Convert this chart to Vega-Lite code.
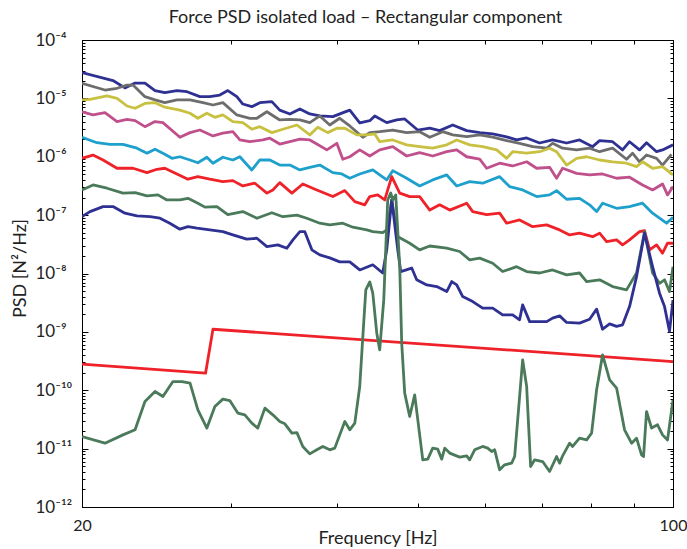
{
"$schema": "https://vega.github.io/schema/vega-lite/v6.json",
"width": 591, "height": 467,
"autosize": {"type": "none"},
"padding": {"left": 82, "top": 40, "right": 14, "bottom": 42},
"background": "white",
"config": {"view": {"stroke": "black", "strokeWidth": 1}, "font": "Lato",
  "axis": {"domainColor": "black", "tickColor": "black", "grid": false, "labelColor": "#222", "titleColor": "#222", "titleFontWeight": "normal", "labelFont": "Lato", "titleFont": "Lato"}},
"title": {"text": "Force PSD isolated load – Rectangular component", "fontSize": 18, "fontWeight": "normal", "color": "#222", "offset": 4, "dx": -12, "font": "Lato"},
"data": {"values": [
{"s":"s1","f":20,"v":2.76e-5},{"s":"s1","f":21.76,"v":2.02e-5},{"s":"s1","f":22.48,"v":1.51e-5},{"s":"s1","f":23.11,"v":1.83e-5},{"s":"s1","f":23.74,"v":1.83e-5},{"s":"s1","f":24.40,"v":1.36e-5},{"s":"s1","f":25.06,"v":1.25e-5},{"s":"s1","f":25.90,"v":1.36e-5},{"s":"s1","f":26.62,"v":1.30e-5},{"s":"s1","f":27.57,"v":1.07e-5},{"s":"s1","f":28.33,"v":1.07e-5},{"s":"s1","f":29.11,"v":1.14e-5},{"s":"s1","f":29.75,"v":1.36e-5},{"s":"s1","f":30.49,"v":1.07e-5},{"s":"s1","f":30.99,"v":8.0e-6},{"s":"s1","f":31.76,"v":7.2e-6},{"s":"s1","f":32.46,"v":8.45e-6},{"s":"s1","f":33.54,"v":8.8e-6},{"s":"s1","f":34.27,"v":6.3e-6},{"s":"s1","f":35.23,"v":5.4e-6},{"s":"s1","f":36.20,"v":6.6e-6},{"s":"s1","f":37.19,"v":5.4e-6},{"s":"s1","f":38.22,"v":5.0e-6},{"s":"s1","f":39.60,"v":4.87e-6},{"s":"s1","f":40.58,"v":5.6e-6},{"s":"s1","f":41.47,"v":6.3e-6},{"s":"s1","f":42.61,"v":3.8e-6},{"s":"s1","f":43.79,"v":4.15e-6},{"s":"s1","f":44.39,"v":5.0e-6},{"s":"s1","f":45.86,"v":3.84e-6},{"s":"s1","f":47.13,"v":4.27e-6},{"s":"s1","f":48.16,"v":4.44e-6},{"s":"s1","f":49.89,"v":2.87e-6},{"s":"s1","f":51.56,"v":3.1e-6},{"s":"s1","f":52.97,"v":2.8e-6},{"s":"s1","f":54.89,"v":3.5e-6},{"s":"s1","f":57.02,"v":2.8e-6},{"s":"s1","f":59.07,"v":2.59e-6},{"s":"s1","f":61.20,"v":2.46e-6},{"s":"s1","f":63.57,"v":2.19e-6},{"s":"s1","f":65.32,"v":1.94e-6},{"s":"s1","f":67.13,"v":2.1e-6},{"s":"s1","f":69.54,"v":1.72e-6},{"s":"s1","f":72.04,"v":1.94e-6},{"s":"s1","f":74.85,"v":1.72e-6},{"s":"s1","f":77.53,"v":1.94e-6},{"s":"s1","f":80.34,"v":1.49e-6},{"s":"s1","f":81.88,"v":1.89e-6},{"s":"s1","f":84.83,"v":1.81e-6},{"s":"s1","f":87.17,"v":1.31e-6},{"s":"s1","f":88.84,"v":1.81e-6},{"s":"s1","f":91.29,"v":1.31e-6},{"s":"s1","f":93.05,"v":1.74e-6},{"s":"s1","f":95.62,"v":1.22e-6},{"s":"s1","f":97.19,"v":1.31e-6},{"s":"s1","f":100,"v":1.6e-6},
{"s":"s2","f":20,"v":1.81e-5},{"s":"s2","f":21.29,"v":1.39e-5},{"s":"s2","f":22.00,"v":1.49e-5},{"s":"s2","f":22.61,"v":1.69e-5},{"s":"s2","f":22.98,"v":1.69e-5},{"s":"s2","f":23.74,"v":1.07e-5},{"s":"s2","f":24.40,"v":9.4e-6},{"s":"s2","f":25.06,"v":8.45e-6},{"s":"s2","f":25.90,"v":9.4e-6},{"s":"s2","f":26.84,"v":9.4e-6},{"s":"s2","f":27.80,"v":8.45e-6},{"s":"s2","f":28.57,"v":7.7e-6},{"s":"s2","f":29.35,"v":8.45e-6},{"s":"s2","f":30.49,"v":5.2e-6},{"s":"s2","f":31.59,"v":4.56e-6},{"s":"s2","f":32.20,"v":4.56e-6},{"s":"s2","f":33.09,"v":5.9e-6},{"s":"s2","f":34.27,"v":4.27e-6},{"s":"s2","f":35.23,"v":4.38e-6},{"s":"s2","f":36.20,"v":4.27e-6},{"s":"s2","f":37.19,"v":3.84e-6},{"s":"s2","f":38.22,"v":5.0e-6},{"s":"s2","f":39.27,"v":3.5e-6},{"s":"s2","f":40.35,"v":4.56e-6},{"s":"s2","f":41.47,"v":3.37e-6},{"s":"s2","f":42.97,"v":2.16e-6},{"s":"s2","f":43.79,"v":2.59e-6},{"s":"s2","f":44.99,"v":2.69e-6},{"s":"s2","f":46.62,"v":2.87e-6},{"s":"s2","f":48.42,"v":2.59e-6},{"s":"s2","f":50.16,"v":2.69e-6},{"s":"s2","f":51.56,"v":2.16e-6},{"s":"s2","f":53.42,"v":2.69e-6},{"s":"s2","f":54.89,"v":2.37e-6},{"s":"s2","f":57.02,"v":2.22e-6},{"s":"s2","f":59.07,"v":2.37e-6},{"s":"s2","f":61.20,"v":2.16e-6},{"s":"s2","f":63.57,"v":1.89e-6},{"s":"s2","f":65.85,"v":1.7e-6},{"s":"s2","f":68.24,"v":1.49e-6},{"s":"s2","f":70.89,"v":1.40e-6},{"s":"s2","f":72.04,"v":1.7e-6},{"s":"s2","f":74.04,"v":1.40e-6},{"s":"s2","f":76.91,"v":1.31e-6},{"s":"s2","f":79.68,"v":1.40e-6},{"s":"s2","f":81.88,"v":1.22e-6},{"s":"s2","f":84.83,"v":1.40e-6},{"s":"s2","f":88.12,"v":9.07e-7},{"s":"s2","f":89.57,"v":1.15e-6},{"s":"s2","f":91.29,"v":8.2e-7},{"s":"s2","f":93.05,"v":1.07e-6},{"s":"s2","f":95.62,"v":9.4e-7},{"s":"s2","f":97.19,"v":7.2e-7},{"s":"s2","f":99.6,"v":1.1e-6},
{"s":"s3","f":20,"v":9.4e-6},{"s":"s3","f":20.44,"v":9.65e-6},{"s":"s3","f":21.41,"v":1.1e-5},{"s":"s3","f":22.00,"v":1.0e-5},{"s":"s3","f":22.61,"v":7.4e-6},{"s":"s3","f":23.11,"v":6.77e-6},{"s":"s3","f":23.74,"v":8.2e-6},{"s":"s3","f":24.40,"v":8.45e-6},{"s":"s3","f":25.06,"v":7.05e-6},{"s":"s3","f":26.11,"v":6.3e-6},{"s":"s3","f":26.84,"v":5.56e-6},{"s":"s3","f":27.42,"v":4.56e-6},{"s":"s3","f":28.10,"v":5.56e-6},{"s":"s3","f":28.72,"v":4.74e-6},{"s":"s3","f":29.35,"v":5.2e-6},{"s":"s3","f":30.16,"v":4.0e-6},{"s":"s3","f":30.99,"v":3.84e-6},{"s":"s3","f":31.76,"v":2.96e-6},{"s":"s3","f":32.46,"v":3.28e-6},{"s":"s3","f":33.54,"v":2.59e-6},{"s":"s3","f":34.56,"v":2.96e-6},{"s":"s3","f":35.91,"v":3.5e-6},{"s":"s3","f":37.19,"v":2.37e-6},{"s":"s3","f":38.01,"v":3.2e-6},{"s":"s3","f":39.06,"v":2.59e-6},{"s":"s3","f":40.03,"v":3.08e-6},{"s":"s3","f":40.91,"v":3.08e-6},{"s":"s3","f":42.27,"v":2.37e-6},{"s":"s3","f":43.44,"v":2.37e-6},{"s":"s3","f":44.39,"v":2.46e-6},{"s":"s3","f":44.99,"v":1.81e-6},{"s":"s3","f":46.62,"v":1.94e-6},{"s":"s3","f":48.42,"v":1.6e-6},{"s":"s3","f":50.16,"v":1.49e-6},{"s":"s3","f":51.98,"v":1.40e-6},{"s":"s3","f":54.00,"v":1.6e-6},{"s":"s3","f":55.49,"v":1.94e-6},{"s":"s3","f":57.48,"v":1.6e-6},{"s":"s3","f":59.55,"v":1.49e-6},{"s":"s3","f":61.87,"v":1.31e-6},{"s":"s3","f":63.57,"v":9.4e-7},{"s":"s3","f":64.62,"v":1.22e-6},{"s":"s3","f":67.13,"v":1.15e-6},{"s":"s3","f":69.54,"v":1.22e-6},{"s":"s3","f":71.46,"v":1.40e-6},{"s":"s3","f":72.83,"v":1.22e-6},{"s":"s3","f":74.85,"v":7.2e-7},{"s":"s3","f":76.91,"v":9.4e-7},{"s":"s3","f":79.04,"v":1.0e-6},{"s":"s3","f":81.88,"v":8.8e-7},{"s":"s3","f":84.83,"v":8.2e-7},{"s":"s3","f":88.12,"v":7.75e-7},{"s":"s3","f":90.55,"v":6.77e-7},{"s":"s3","f":92.04,"v":8.2e-7},{"s":"s3","f":94.59,"v":6.35e-7},{"s":"s3","f":97.19,"v":6.77e-7},{"s":"s3","f":100,"v":4.9e-7},
{"s":"s4","f":20,"v":5.9e-6},{"s":"s4","f":20.61,"v":5.2e-6},{"s":"s4","f":21.29,"v":5.7e-6},{"s":"s4","f":22.00,"v":4.0e-6},{"s":"s4","f":22.61,"v":4.38e-6},{"s":"s4","f":23.11,"v":4.15e-6},{"s":"s4","f":23.74,"v":3.28e-6},{"s":"s4","f":24.40,"v":4.0e-6},{"s":"s4","f":24.93,"v":3.84e-6},{"s":"s4","f":26.11,"v":2.16e-6},{"s":"s4","f":26.84,"v":2.59e-6},{"s":"s4","f":27.57,"v":2.87e-6},{"s":"s4","f":28.57,"v":2.27e-6},{"s":"s4","f":29.35,"v":2.53e-6},{"s":"s4","f":30.16,"v":2.69e-6},{"s":"s4","f":30.74,"v":1.94e-6},{"s":"s4","f":31.59,"v":1.81e-6},{"s":"s4","f":32.73,"v":1.94e-6},{"s":"s4","f":33.36,"v":2.08e-6},{"s":"s4","f":34.27,"v":1.65e-6},{"s":"s4","f":35.23,"v":1.81e-6},{"s":"s4","f":36.20,"v":2.0e-6},{"s":"s4","f":37.19,"v":1.94e-6},{"s":"s4","f":37.91,"v":1.65e-6},{"s":"s4","f":38.96,"v":1.31e-6},{"s":"s4","f":40.03,"v":1.7e-6},{"s":"s4","f":40.69,"v":9.07e-7},{"s":"s4","f":41.47,"v":1.0e-6},{"s":"s4","f":42.61,"v":1.31e-6},{"s":"s4","f":43.79,"v":1.03e-6},{"s":"s4","f":44.99,"v":1.31e-6},{"s":"s4","f":46.62,"v":1.49e-6},{"s":"s4","f":48.42,"v":1.03e-6},{"s":"s4","f":50.16,"v":1.18e-6},{"s":"s4","f":51.98,"v":1.03e-6},{"s":"s4","f":54.00,"v":1.22e-6},{"s":"s4","f":55.49,"v":1.31e-6},{"s":"s4","f":57.02,"v":1.0e-6},{"s":"s4","f":59.07,"v":9.07e-7},{"s":"s4","f":60.20,"v":6.35e-7},{"s":"s4","f":62.37,"v":7.75e-7},{"s":"s4","f":64.62,"v":6.95e-7},{"s":"s4","f":67.13,"v":8.2e-7},{"s":"s4","f":68.98,"v":6.35e-7},{"s":"s4","f":71.46,"v":6.6e-7},{"s":"s4","f":72.83,"v":4.28e-7},{"s":"s4","f":74.04,"v":6.35e-7},{"s":"s4","f":76.91,"v":5.2e-7},{"s":"s4","f":79.68,"v":4.88e-7},{"s":"s4","f":82.55,"v":5.07e-7},{"s":"s4","f":85.76,"v":4.28e-7},{"s":"s4","f":88.84,"v":4.46e-7},{"s":"s4","f":92.04,"v":3.29e-7},{"s":"s4","f":94.59,"v":2.7e-7},{"s":"s4","f":97.19,"v":3.42e-7},{"s":"s4","f":98.52,"v":2.22e-7},{"s":"s4","f":100,"v":3.08e-7},
{"s":"s5","f":20,"v":2.16e-6},{"s":"s5","f":20.83,"v":1.74e-6},{"s":"s5","f":21.58,"v":1.63e-6},{"s":"s5","f":22.36,"v":1.63e-6},{"s":"s5","f":23.23,"v":1.40e-6},{"s":"s5","f":23.87,"v":1.15e-6},{"s":"s5","f":24.40,"v":1.35e-6},{"s":"s5","f":24.93,"v":1.15e-6},{"s":"s5","f":25.55,"v":9.4e-7},{"s":"s5","f":26.11,"v":1.0e-6},{"s":"s5","f":26.84,"v":8.8e-7},{"s":"s5","f":27.42,"v":7.9e-7},{"s":"s5","f":28.10,"v":9.8e-7},{"s":"s5","f":28.57,"v":7.75e-7},{"s":"s5","f":29.35,"v":9.8e-7},{"s":"s5","f":30.16,"v":8.8e-7},{"s":"s5","f":30.74,"v":1.0e-6},{"s":"s5","f":31.76,"v":5.94e-7},{"s":"s5","f":32.46,"v":8.8e-7},{"s":"s5","f":33.36,"v":8.8e-7},{"s":"s5","f":34.27,"v":7.2e-7},{"s":"s5","f":35.23,"v":7.2e-7},{"s":"s5","f":36.20,"v":5.94e-7},{"s":"s5","f":37.19,"v":6.6e-7},{"s":"s5","f":38.22,"v":7.2e-7},{"s":"s5","f":39.60,"v":5.34e-7},{"s":"s5","f":40.58,"v":5.07e-7},{"s":"s5","f":41.47,"v":4.28e-7},{"s":"s5","f":42.61,"v":5.07e-7},{"s":"s5","f":44.15,"v":5.94e-7},{"s":"s5","f":45.86,"v":4.01e-7},{"s":"s5","f":46.62,"v":5.78e-7},{"s":"s5","f":48.42,"v":4.28e-7},{"s":"s5","f":50.16,"v":3.16e-7},{"s":"s5","f":51.98,"v":4.01e-7},{"s":"s5","f":54.00,"v":4.88e-7},{"s":"s5","f":55.49,"v":3.16e-7},{"s":"s5","f":57.48,"v":3.74e-7},{"s":"s5","f":59.55,"v":3.52e-7},{"s":"s5","f":62.37,"v":4.56e-7},{"s":"s5","f":64.08,"v":3.08e-7},{"s":"s5","f":66.40,"v":2.7e-7},{"s":"s5","f":68.98,"v":2.08e-7},{"s":"s5","f":71.46,"v":2.22e-7},{"s":"s5","f":72.83,"v":2.63e-7},{"s":"s5","f":74.85,"v":1.87e-7},{"s":"s5","f":77.53,"v":1.94e-7},{"s":"s5","f":79.68,"v":1.5e-7},{"s":"s5","f":81.22,"v":1.15e-7},{"s":"s5","f":82.55,"v":1.6e-7},{"s":"s5","f":85.76,"v":1.31e-7},{"s":"s5","f":88.84,"v":1.40e-7},{"s":"s5","f":92.04,"v":1.6e-7},{"s":"s5","f":94.59,"v":1.08e-7},{"s":"s5","f":98.26,"v":7.27e-8},{"s":"s5","f":100,"v":9.2e-8},
{"s":"s6","f":20,"v":9.4e-7},{"s":"s6","f":20.61,"v":1.07e-6},{"s":"s6","f":21.18,"v":8.8e-7},{"s":"s6","f":22.00,"v":6.35e-7},{"s":"s6","f":22.98,"v":6.35e-7},{"s":"s6","f":23.87,"v":5.34e-7},{"s":"s6","f":24.53,"v":6.1e-7},{"s":"s6","f":25.06,"v":6.35e-7},{"s":"s6","f":25.90,"v":5.07e-7},{"s":"s6","f":26.69,"v":4.12e-7},{"s":"s6","f":27.42,"v":4.56e-7},{"s":"s6","f":28.33,"v":4.12e-7},{"s":"s6","f":29.35,"v":3.74e-7},{"s":"s6","f":30.16,"v":3.9e-7},{"s":"s6","f":30.99,"v":3.16e-7},{"s":"s6","f":32.02,"v":3.52e-7},{"s":"s6","f":33.09,"v":2.38e-7},{"s":"s6","f":33.63,"v":2.7e-7},{"s":"s6","f":34.27,"v":3.6e-7},{"s":"s6","f":35.42,"v":2.38e-7},{"s":"s6","f":36.49,"v":3.42e-7},{"s":"s6","f":37.91,"v":2.7e-7},{"s":"s6","f":39.60,"v":2.08e-7},{"s":"s6","f":40.91,"v":2.63e-7},{"s":"s6","f":42.04,"v":1.7e-7},{"s":"s6","f":43.20,"v":1.5e-7},{"s":"s6","f":43.79,"v":2.08e-7},{"s":"s6","f":44.75,"v":2.22e-7},{"s":"s6","f":45.61,"v":1.82e-7},{"s":"s6","f":46.49,"v":4.56e-7},{"s":"s6","f":47.51,"v":2.38e-7},{"s":"s6","f":48.82,"v":2.08e-7},{"s":"s6","f":50.16,"v":2.08e-7},{"s":"s6","f":51.56,"v":1.22e-7},{"s":"s6","f":52.97,"v":1.5e-7},{"s":"s6","f":54.44,"v":1.22e-7},{"s":"s6","f":57.02,"v":1.6e-7},{"s":"s6","f":57.96,"v":1.15e-7},{"s":"s6","f":60.20,"v":1.02e-7},{"s":"s6","f":62.37,"v":1.08e-7},{"s":"s6","f":63.57,"v":7.27e-8},{"s":"s6","f":65.85,"v":8.28e-8},{"s":"s6","f":68.24,"v":6.35e-8},{"s":"s6","f":70.89,"v":6.8e-8},{"s":"s6","f":73.44,"v":5.58e-8},{"s":"s6","f":75.46,"v":4.58e-8},{"s":"s6","f":77.53,"v":4.9e-8},{"s":"s6","f":80.34,"v":4.28e-8},{"s":"s6","f":81.88,"v":4.9e-8},{"s":"s6","f":83.46,"v":3.52e-8},{"s":"s6","f":85.76,"v":3.76e-8},{"s":"s6","f":87.17,"v":3.09e-8},{"s":"s6","f":88.84,"v":3.76e-8},{"s":"s6","f":91.29,"v":5.2e-8},{"s":"s6","f":92.54,"v":5.43e-8},{"s":"s6","f":93.82,"v":2.54e-8},{"s":"s6","f":95.62,"v":3.09e-8},{"s":"s6","f":97.19,"v":2.23e-8},{"s":"s6","f":98.52,"v":3.3e-8},{"s":"s6","f":100,"v":3.3e-8},
{"s":"s7","f":20,"v":2.7e-7},{"s":"s7","f":20.61,"v":3.29e-7},{"s":"s7","f":21.41,"v":2.89e-7},{"s":"s7","f":22.36,"v":2.38e-7},{"s":"s7","f":23.11,"v":2.43e-7},{"s":"s7","f":23.87,"v":2.14e-7},{"s":"s7","f":24.60,"v":2.22e-7},{"s":"s7","f":25.20,"v":1.82e-7},{"s":"s7","f":26.11,"v":1.82e-7},{"s":"s7","f":26.69,"v":1.94e-7},{"s":"s7","f":27.42,"v":1.6e-7},{"s":"s7","f":27.95,"v":1.37e-7},{"s":"s7","f":28.88,"v":1.40e-7},{"s":"s7","f":29.75,"v":1.02e-7},{"s":"s7","f":30.99,"v":1.15e-7},{"s":"s7","f":32.20,"v":8.85e-8},{"s":"s7","f":33.54,"v":1.1e-7},{"s":"s7","f":34.56,"v":9.4e-8},{"s":"s7","f":35.91,"v":1.0e-7},{"s":"s7","f":36.89,"v":8.85e-8},{"s":"s7","f":38.22,"v":7.27e-8},{"s":"s7","f":39.27,"v":6.8e-8},{"s":"s7","f":40.69,"v":7.27e-8},{"s":"s7","f":41.81,"v":6.2e-8},{"s":"s7","f":43.44,"v":5.58e-8},{"s":"s7","f":44.15,"v":5.2e-8},{"s":"s7","f":45.36,"v":5.0e-8},{"s":"s7","f":45.86,"v":5.58e-8},{"s":"s7","f":46.49,"v":1.82e-7},{"s":"s7","f":47.26,"v":4.28e-8},{"s":"s7","f":47.64,"v":4.02e-8},{"s":"s7","f":48.82,"v":3.3e-8},{"s":"s7","f":50.16,"v":2.54e-8},{"s":"s7","f":51.56,"v":2.96e-8},{"s":"s7","f":54.00,"v":2.71e-8},{"s":"s7","f":55.94,"v":2.38e-8},{"s":"s7","f":57.48,"v":1.71e-8},{"s":"s7","f":59.07,"v":1.83e-8},{"s":"s7","f":61.20,"v":1.5e-8},{"s":"s7","f":62.88,"v":1.08e-8},{"s":"s7","f":65.32,"v":1.31e-8},{"s":"s7","f":67.13,"v":1.08e-8},{"s":"s7","f":69.54,"v":1.02e-8},{"s":"s7","f":72.04,"v":1.15e-8},{"s":"s7","f":74.85,"v":9.45e-9},{"s":"s7","f":77.53,"v":1.02e-8},{"s":"s7","f":79.04,"v":7.27e-9},{"s":"s7","f":81.88,"v":7.8e-9},{"s":"s7","f":84.83,"v":5.97e-9},{"s":"s7","f":88.12,"v":5.24e-9},{"s":"s7","f":90.55,"v":1.02e-8},{"s":"s7","f":92.54,"v":5.2e-8},{"s":"s7","f":94.59,"v":1.02e-8},{"s":"s7","f":96.40,"v":6.8e-9},{"s":"s7","f":97.72,"v":7.8e-9},{"s":"s7","f":99.06,"v":4.9e-9},{"s":"s7","f":100,"v":1.31e-8},
{"s":"s8","f":20,"v":9.4e-8},{"s":"s8","f":20.44,"v":1.15e-7},{"s":"s8","f":21.18,"v":1.40e-7},{"s":"s8","f":21.76,"v":1.40e-7},{"s":"s8","f":22.48,"v":1.08e-7},{"s":"s8","f":23.23,"v":9.7e-8},{"s":"s8","f":24.07,"v":9.4e-8},{"s":"s8","f":24.73,"v":8.85e-8},{"s":"s8","f":25.40,"v":7.27e-8},{"s":"s8","f":26.11,"v":5.74e-8},{"s":"s8","f":26.69,"v":6.35e-8},{"s":"s8","f":27.35,"v":5.97e-8},{"s":"s8","f":28.33,"v":5.58e-8},{"s":"s8","f":29.35,"v":5.2e-8},{"s":"s8","f":30.16,"v":4.58e-8},{"s":"s8","f":31.33,"v":3.87e-8},{"s":"s8","f":32.20,"v":4.02e-8},{"s":"s8","f":33.09,"v":2.89e-8},{"s":"s8","f":34.09,"v":3.09e-8},{"s":"s8","f":34.94,"v":2.71e-8},{"s":"s8","f":35.52,"v":3.76e-8},{"s":"s8","f":36.20,"v":5.2e-8},{"s":"s8","f":36.69,"v":5.2e-8},{"s":"s8","f":37.40,"v":2.54e-8},{"s":"s8","f":38.22,"v":2.08e-8},{"s":"s8","f":39.27,"v":1.85e-8},{"s":"s8","f":40.35,"v":1.58e-8},{"s":"s8","f":41.47,"v":1.58e-8},{"s":"s8","f":42.61,"v":1.15e-8},{"s":"s8","f":44.15,"v":1.41e-8},{"s":"s8","f":45.36,"v":1.02e-8},{"s":"s8","f":45.86,"v":2.54e-8},{"s":"s8","f":46.49,"v":1.82e-7},{"s":"s8","f":47.26,"v":2.54e-8},{"s":"s8","f":47.64,"v":1.08e-8},{"s":"s8","f":49.09,"v":1.24e-8},{"s":"s8","f":49.76,"v":7.8e-9},{"s":"s8","f":51.14,"v":6.38e-9},{"s":"s8","f":52.55,"v":5.97e-9},{"s":"s8","f":54.00,"v":4.9e-9},{"s":"s8","f":54.74,"v":7.27e-9},{"s":"s8","f":55.49,"v":6.38e-9},{"s":"s8","f":56.40,"v":4.02e-9},{"s":"s8","f":57.96,"v":3.3e-9},{"s":"s8","f":59.55,"v":2.55e-9},{"s":"s8","f":61.20,"v":2.55e-9},{"s":"s8","f":62.88,"v":1.95e-9},{"s":"s8","f":64.62,"v":1.95e-9},{"s":"s8","f":65.85,"v":1.61e-9},{"s":"s8","f":66.40,"v":2.9e-9},{"s":"s8","f":67.68,"v":1.5e-9},{"s":"s8","f":70.89,"v":1.5e-9},{"s":"s8","f":72.04,"v":1.72e-9},{"s":"s8","f":73.44,"v":1.88e-9},{"s":"s8","f":74.85,"v":1.45e-9},{"s":"s8","f":77.53,"v":1.41e-9},{"s":"s8","f":79.68,"v":1.65e-9},{"s":"s8","f":81.22,"v":2.45e-9},{"s":"s8","f":82.55,"v":1.11e-9},{"s":"s8","f":84.15,"v":1.37e-9},{"s":"s8","f":85.76,"v":1.24e-9},{"s":"s8","f":87.17,"v":1.32e-9},{"s":"s8","f":88.84,"v":2.71e-9},{"s":"s8","f":90.55,"v":8.85e-9},{"s":"s8","f":92.54,"v":4.9e-8},{"s":"s8","f":94.59,"v":1.31e-8},{"s":"s8","f":96.40,"v":4.6e-9},{"s":"s8","f":97.72,"v":2.71e-9},{"s":"s8","f":99.06,"v":1.02e-9},{"s":"s8","f":100,"v":3.53e-9},
{"s":"s9","f":20,"v":2.8e-10},{"s":"s9","f":28.0,"v":1.96e-10},{"s":"s9","f":28.57,"v":1.11e-9},{"s":"s9","f":100,"v":3.1e-10},
{"s":"s10","f":20,"v":1.61e-11},{"s":"s10","f":21.29,"v":1.24e-11},{"s":"s10","f":22.36,"v":1.72e-11},{"s":"s10","f":23.11,"v":2.1e-11},{"s":"s10","f":23.74,"v":6.41e-11},{"s":"s10","f":24.40,"v":9.5e-11},{"s":"s10","f":24.93,"v":7.8e-11},{"s":"s10","f":25.62,"v":1.41e-10},{"s":"s10","f":26.26,"v":1.41e-10},{"s":"s10","f":26.84,"v":1.32e-10},{"s":"s10","f":27.42,"v":4.62e-11},{"s":"s10","f":28.10,"v":2.25e-11},{"s":"s10","f":28.72,"v":5.26e-11},{"s":"s10","f":29.35,"v":7.05e-11},{"s":"s10","f":29.91,"v":6.66e-11},{"s":"s10","f":30.57,"v":4.06e-11},{"s":"s10","f":31.16,"v":3.79e-11},{"s":"s10","f":31.76,"v":2.73e-11},{"s":"s10","f":32.28,"v":2.25e-11},{"s":"s10","f":32.91,"v":4.94e-11},{"s":"s10","f":33.63,"v":3.79e-11},{"s":"s10","f":34.27,"v":2.91e-11},{"s":"s10","f":34.75,"v":2.66e-11},{"s":"s10","f":35.42,"v":1.84e-11},{"s":"s10","f":35.91,"v":1.88e-11},{"s":"s10","f":36.49,"v":1.09e-11},{"s":"s10","f":37.19,"v":8.14e-12},{"s":"s10","f":37.91,"v":9.54e-12},{"s":"s10","f":38.53,"v":1.09e-11},{"s":"s10","f":39.27,"v":9.54e-12},{"s":"s10","f":39.81,"v":1.02e-11},{"s":"s10","f":40.91,"v":2.91e-11},{"s":"s10","f":41.47,"v":2.1e-11},{"s":"s10","f":42.04,"v":2.73e-11},{"s":"s10","f":42.61,"v":1.16e-10},{"s":"s10","f":42.97,"v":8.3e-10},{"s":"s10","f":43.32,"v":5.24e-9},{"s":"s10","f":43.79,"v":7.18e-9},{"s":"s10","f":44.15,"v":4.6e-9},{"s":"s10","f":44.63,"v":9.6e-10},{"s":"s10","f":44.99,"v":4.92e-10},{"s":"s10","f":45.49,"v":3.53e-9},{"s":"s10","f":45.98,"v":1.82e-7},{"s":"s10","f":46.36,"v":2.4e-7},{"s":"s10","f":46.62,"v":1.82e-7},{"s":"s10","f":47.00,"v":2.22e-7},{"s":"s10","f":47.51,"v":1.31e-8},{"s":"s10","f":47.77,"v":6.41e-10},{"s":"s10","f":48.16,"v":8.92e-11},{"s":"s10","f":48.82,"v":3.55e-11},{"s":"s10","f":49.49,"v":8.34e-11},{"s":"s10","f":50.59,"v":6.43e-12},{"s":"s10","f":51.28,"v":6.6e-12},{"s":"s10","f":51.98,"v":1.02e-11},{"s":"s10","f":52.69,"v":9.8e-12},{"s":"s10","f":53.27,"v":6.6e-12},{"s":"s10","f":53.71,"v":1.02e-11},{"s":"s10","f":54.44,"v":8.38e-12},{"s":"s10","f":55.94,"v":7.15e-12},{"s":"s10","f":57.02,"v":7.53e-12},{"s":"s10","f":57.48,"v":6.43e-12},{"s":"s10","f":58.27,"v":9.54e-12},{"s":"s10","f":59.55,"v":1.09e-11},{"s":"s10","f":60.37,"v":1.02e-11},{"s":"s10","f":61.03,"v":8.92e-12},{"s":"s10","f":61.53,"v":9.54e-12},{"s":"s10","f":62.37,"v":4.33e-12},{"s":"s10","f":63.22,"v":5.28e-12},{"s":"s10","f":64.44,"v":5.64e-12},{"s":"s10","f":64.97,"v":7.32e-12},{"s":"s10","f":66.40,"v":3.32e-10},{"s":"s10","f":67.13,"v":1.16e-10},{"s":"s10","f":67.86,"v":4.94e-12},{"s":"s10","f":68.61,"v":6.43e-12},{"s":"s10","f":70.12,"v":6.01e-12},{"s":"s10","f":71.46,"v":4.06e-12},{"s":"s10","f":72.83,"v":7.32e-12},{"s":"s10","f":73.44,"v":5.64e-12},{"s":"s10","f":74.04,"v":7.53e-12},{"s":"s10","f":75.46,"v":1.24e-11},{"s":"s10","f":76.08,"v":1.09e-11},{"s":"s10","f":77.53,"v":1.51e-11},{"s":"s10","f":79.04,"v":1.41e-11},{"s":"s10","f":80.12,"v":1.84e-11},{"s":"s10","f":81.22,"v":1.02e-10},{"s":"s10","f":82.55,"v":4.05e-10},{"s":"s10","f":84.15,"v":1.51e-10},{"s":"s10","f":85.76,"v":1.09e-10},{"s":"s10","f":87.64,"v":2.1e-11},{"s":"s10","f":89.33,"v":1.24e-11},{"s":"s10","f":90.55,"v":1.51e-11},{"s":"s10","f":91.79,"v":7.83e-12},{"s":"s10","f":92.29,"v":7.32e-12},{"s":"s10","f":93.05,"v":4.32e-11},{"s":"s10","f":94.33,"v":2.25e-11},{"s":"s10","f":95.88,"v":2.56e-11},{"s":"s10","f":97.19,"v":1.72e-11},{"s":"s10","f":98.52,"v":1.41e-11},{"s":"s10","f":100,"v":6.85e-11}
]},
"layer": [
 {"mark": {"type": "line", "strokeWidth": 2.8, "clip": true, "strokeJoin": "round"},
  "encoding": {
   "x": {"field": "f", "type": "quantitative", "scale": {"type": "log", "domain": [20, 100], "nice": false},
     "axis": {"orient": "bottom", "values": [20, 30, 40, 50, 60, 70, 80, 90, 100], "labelExpr": "datum.value == 20 ? '20' : datum.value == 100 ? '100' : ''", "tickSize": -4, "labelPadding": 14, "labelFontSize": 16, "labelFlush": false, "labelOverlap": false, "labelBaseline": "top", "title": "Frequency [Hz]", "titleFontSize": 18, "titleY": 36, "titleBaseline": "alphabetic", "domainColor": "black"}},
   "y": {"field": "v", "type": "quantitative", "scale": {"type": "log", "domain": [1e-12, 1e-4], "nice": false},
     "axis": {"orient": "left", "values": [1e-12, 1e-11, 1e-10, 1e-9, 1e-8, 1e-7, 1e-6, 1e-5, 1e-4], "labelExpr": "datum.value > 5e-5 ? '10⁻⁴' : datum.value > 5e-6 ? '10⁻⁵' : datum.value > 5e-7 ? '10⁻⁶' : datum.value > 5e-8 ? '10⁻⁷' : datum.value > 5e-9 ? '10⁻⁸' : datum.value > 5e-10 ? '10⁻⁹' : datum.value > 5e-11 ? '10⁻¹⁰' : datum.value > 5e-12 ? '10⁻¹¹' : '10⁻¹²'", "labelAlign": "left", "labelBaseline": "middle", "labelPadding": 53, "tickSize": -6, "labelFontSize": 17, "labelFlush": false, "labelOverlap": false, "labelBound": false, "title": "PSD [N²/Hz]", "titleFontSize": 18, "titleX": -62, "titleY": 228, "titleAlign": "center", "titleBaseline": "middle", "titleAngle": -90}},
   "color": {"field": "s", "type": "nominal", "legend": null, "sort": ["s1","s2","s3","s4","s5","s6","s7","s8","s9","s10"],
     "scale": {"domain": ["s1","s2","s3","s4","s5","s6","s7","s8","s9","s10"], "range": ["#2e3192","#6d6d6d","#c8c040","#c0508c","#1ea0cc","#ee2228","#4a7a5a","#2e3192","#ee2228","#4a7a5a"]}}
  }},
 {"mark": {"type": "point", "opacity": 0},
  "encoding": {
   "x": {"field": "f", "type": "quantitative", "scale": {"type": "log", "domain": [20, 100], "nice": false},
     "axis": {"orient": "top", "values": [30, 40, 50, 60, 70, 80, 90], "labels": false, "tickSize": -4, "title": null, "domainColor": "black"}},
   "y": {"field": "v", "type": "quantitative", "scale": {"type": "log", "domain": [1e-12, 1e-4], "nice": false},
     "axis": {"orient": "left", "values": [2e-12,3e-12,4e-12,5e-12,6e-12,7e-12,8e-12,9e-12,2e-11,3e-11,4e-11,5e-11,6e-11,7e-11,8e-11,9e-11,2e-10,3e-10,4e-10,5e-10,6e-10,7e-10,8e-10,9e-10,2e-9,3e-9,4e-9,5e-9,6e-9,7e-9,8e-9,9e-9,2e-8,3e-8,4e-8,5e-8,6e-8,7e-8,8e-8,9e-8,2e-7,3e-7,4e-7,5e-7,6e-7,7e-7,8e-7,9e-7,2e-6,3e-6,4e-6,5e-6,6e-6,7e-6,8e-6,9e-6,2e-5,3e-5,4e-5,5e-5,6e-5,7e-5,8e-5,9e-5], "labels": false, "tickSize": -3, "domain": false, "title": null}}
  }},
 {"mark": {"type": "point", "opacity": 0},
  "encoding": {
   "x": {"field": "f", "type": "quantitative", "scale": {"type": "log", "domain": [20, 100], "nice": false}, "axis": null},
   "y": {"field": "v", "type": "quantitative", "scale": {"type": "log", "domain": [1e-12, 1e-4], "nice": false},
     "axis": {"orient": "right", "values": [1e-12, 1e-11, 1e-10, 1e-9, 1e-8, 1e-7, 1e-6, 1e-5, 1e-4], "labels": false, "tickSize": -6, "title": null, "domainColor": "black"}}
  }},
 {"mark": {"type": "point", "opacity": 0},
  "encoding": {
   "x": {"field": "f", "type": "quantitative", "scale": {"type": "log", "domain": [20, 100], "nice": false}, "axis": null},
   "y": {"field": "v", "type": "quantitative", "scale": {"type": "log", "domain": [1e-12, 1e-4], "nice": false},
     "axis": {"orient": "right", "values": [2e-12,3e-12,4e-12,5e-12,6e-12,7e-12,8e-12,9e-12,2e-11,3e-11,4e-11,5e-11,6e-11,7e-11,8e-11,9e-11,2e-10,3e-10,4e-10,5e-10,6e-10,7e-10,8e-10,9e-10,2e-9,3e-9,4e-9,5e-9,6e-9,7e-9,8e-9,9e-9,2e-8,3e-8,4e-8,5e-8,6e-8,7e-8,8e-8,9e-8,2e-7,3e-7,4e-7,5e-7,6e-7,7e-7,8e-7,9e-7,2e-6,3e-6,4e-6,5e-6,6e-6,7e-6,8e-6,9e-6,2e-5,3e-5,4e-5,5e-5,6e-5,7e-5,8e-5,9e-5], "labels": false, "tickSize": -3, "domain": false, "title": null}}
  }}
],
"resolve": {"axis": {"x": "independent", "y": "independent"}}
}
